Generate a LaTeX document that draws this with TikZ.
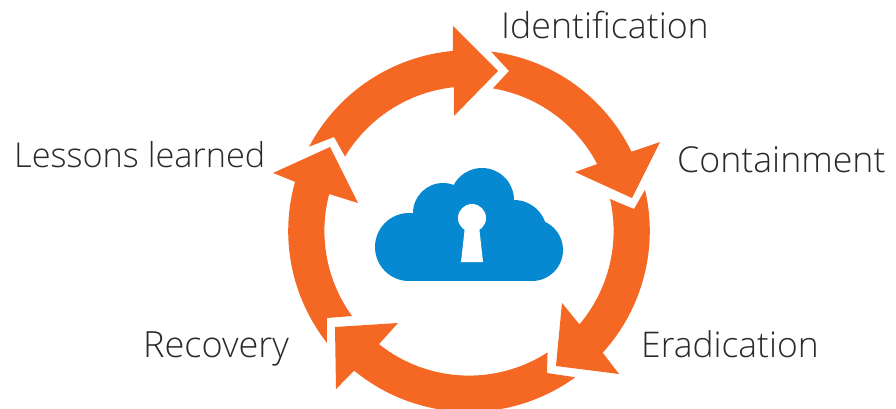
\documentclass[tikz,border=0pt]{standalone}
\usepackage{fontspec}
\setmainfont{Open Sans Light}
\definecolor{ringorange}{HTML}{F56823}
\definecolor{cloudblue}{HTML}{0789D1}
\definecolor{labeltext}{HTML}{2A2A2A}
\tikzset{
  ringarrow/.style={fill=ringorange,draw=none},
  cloudpart/.style={fill=cloudblue,draw=none},
  keyhole/.style={fill=white,draw=none},
  steplabel/.style={text=labeltext,font=\fontsize{#1}{40}\selectfont,inner sep=0pt,anchor=base west}
}
% #1 outer start angle, #2 outer end angle, #3 head points, #4 inner end angle, #5 inner start angle, #6 notch
\newcommand{\ringseg}[6]{%
  \fill[ringarrow] ([shift={(#1:180.8pt)}]c) arc[start angle=#1,end angle=#2,radius=180.8pt]
    #3 -- ([shift={(#4:144.6pt)}]c) arc[start angle=#4,end angle=#5,radius=144.6pt] -- #6 -- cycle;}
\begin{document}
\begin{tikzpicture}[x=1pt,y=-1pt]
\useasboundingbox (0,0) rectangle (896,408);
\coordinate (c) at (469,231);
\ringseg{152.2}{95.1}{-- (453,26) -- (498,71) -- (454,116)}{96}{149}{(334,137)}
\ringseg{83}{26}{-- (660,142) -- (632,198) -- (575,172)}{27.6}{80.5}{(509,71)}
\ringseg{13.2}{-42.3}{-- (619,374) -- (556,366) -- (562,303)}{-40.2}{12.8}{(634,209)}
\ringseg{-54}{-129.4}{-- (336,389) -- (335,327) -- (398,323)}{-128.5}{-57.1}{(547,373)}
\ringseg{218.2}{164.2}{-- (273,173) -- (330,147) -- (358,203)}{165.2}{216}{(327,318)}
% cloud
\fill[cloudpart] (409,247) circle[radius=34pt];
\fill[cloudpart] (443,213) circle[radius=30pt];
\fill[cloudpart] (482,200) circle[radius=32pt];
\fill[cloudpart] (514,233) circle[radius=33pt];
\fill[cloudpart] (532,250) circle[radius=31pt];
\fill[cloudpart] (409,215) rectangle (532,281);
\fill[keyhole] (472,218) circle[radius=14pt];
\fill[keyhole] (465,226) -- (479,226) -- (483,262) -- (461,262) -- cycle;
% labels
\node[steplabel=35.7] (identification) at (501,38) {Identification};
\node[steplabel=35.7] (containment) at (677,172) {Containment};
\node[steplabel=35.4] (eradication) at (641,357) {Eradication};
\node[steplabel=36.1] (recovery) at (143,357) {Recovery};
\node[steplabel=34.3] (lessons) at (14,167) {Lessons learned};
\end{tikzpicture}
\end{document}
